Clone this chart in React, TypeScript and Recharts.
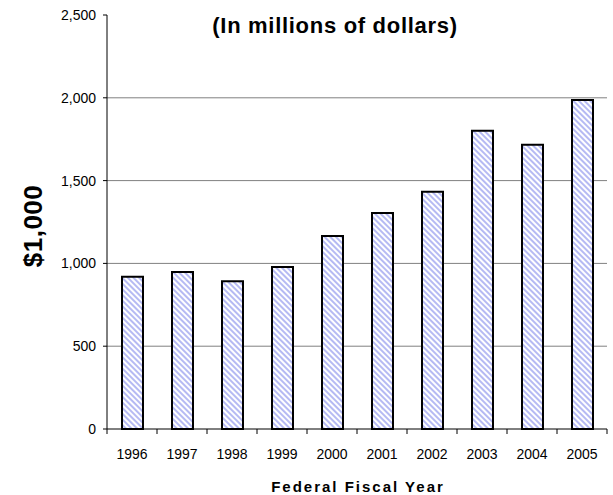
import { BarChart, Bar, XAxis, YAxis, CartesianGrid, Label } from 'recharts';

const YEARS = ['1996', '1997', '1998', '1999', '2000', '2001', '2002', '2003', '2004', '2005'];
const SPENDING = [920, 948, 892, 979, 1165, 1305, 1433, 1801, 1716, 1986];
const Y_TICKS = [0, 500, 1000, 1500, 2000, 2500];
const GRID_VALUES = [500, 1000, 1500, 2000];

const FONT = '"Liberation Sans", Arial, sans-serif';

const data = YEARS.map((year, i) => ({ year, value: SPENDING[i] }));

function YearTick(props: any) {
    const { x, y, payload, index } = props;
    const half = 25;
    return (
        <g>
            <line x1={x - half} y1={y - 8} x2={x - half} y2={y - 3} stroke="#000" />
            {index === YEARS.length - 1 && (
                <line x1={x + half} y1={y - 8} x2={x + half} y2={y - 3} stroke="#000" />
            )}
            <text x={x} y={y + 22} textAnchor="middle" fontSize={14} fontFamily={FONT} fill="#000">
                {payload.value}
            </text>
        </g>
    );
}

export default function App() {
    return (
        <div style={{ position: 'absolute', left: 0, top: 0, width: 613, height: 495, background: '#fff' }}>
            <BarChart
                width={613}
                height={495}
                data={data}
                margin={{ top: 15, right: 6, bottom: 36, left: 0 }}
                barCategoryGap={0}
            >
                <defs>
                    <pattern id="hatch" patternUnits="userSpaceOnUse" width="4" height="4" patternTransform="rotate(-45)">
                        <rect width="4" height="4" fill="#fff" />
                        <line x1="2" y1="0" x2="2" y2="4" stroke="#a3a9f0" strokeWidth="1.6" />
                    </pattern>
                </defs>
                <CartesianGrid vertical={false} horizontalValues={GRID_VALUES} stroke="#808080" strokeWidth={1} />
                <XAxis
                    dataKey="year"
                    height={30}
                    axisLine={{ stroke: '#000' }}
                    tickLine={false}
                    tick={<YearTick />}
                    interval={0}
                >
                    <Label
                        content={() => (
                            <text
                                x={358}
                                y={492}
                                textAnchor="middle"
                                fontSize={15}
                                fontWeight="bold"
                                letterSpacing={2}
                                fontFamily={FONT}
                                fill="#000"
                            >
                                Federal Fiscal Year
                            </text>
                        )}
                    />
                </XAxis>
                <YAxis
                    width={107}
                    domain={[0, 2500]}
                    ticks={Y_TICKS}
                    interval={0}
                    axisLine={{ stroke: '#000' }}
                    tickLine={{ stroke: '#000' }}
                    tickSize={4}
                    tickMargin={7}
                    tickFormatter={(v: number) => v.toLocaleString('en-US')}
                    tick={{ fontSize: 14, fontFamily: FONT, fill: '#000' }}
                >
                    <Label
                        content={() => (
                            <text
                                x={0}
                                y={0}
                                transform="translate(42 226) rotate(-90)"
                                textAnchor="middle"
                                fontSize={26}
                                fontWeight="bold"
                                letterSpacing={0.5}
                                fontFamily={FONT}
                                fill="#000"
                            >
                                $1,000
                            </text>
                        )}
                    />
                </YAxis>
                <Bar
                    dataKey="value"
                    barSize={21}
                    fill="url(#hatch)"
                    stroke="#000"
                    strokeWidth={2}
                    isAnimationActive={false}
                />
                <text
                    x={335}
                    y={33}
                    textAnchor="middle"
                    fontSize={22}
                    fontWeight="bold"
                    letterSpacing={0.7}
                    fontFamily={FONT}
                    fill="#000"
                >
                    (In millions of dollars)
                </text>
            </BarChart>
        </div>
    );
}
